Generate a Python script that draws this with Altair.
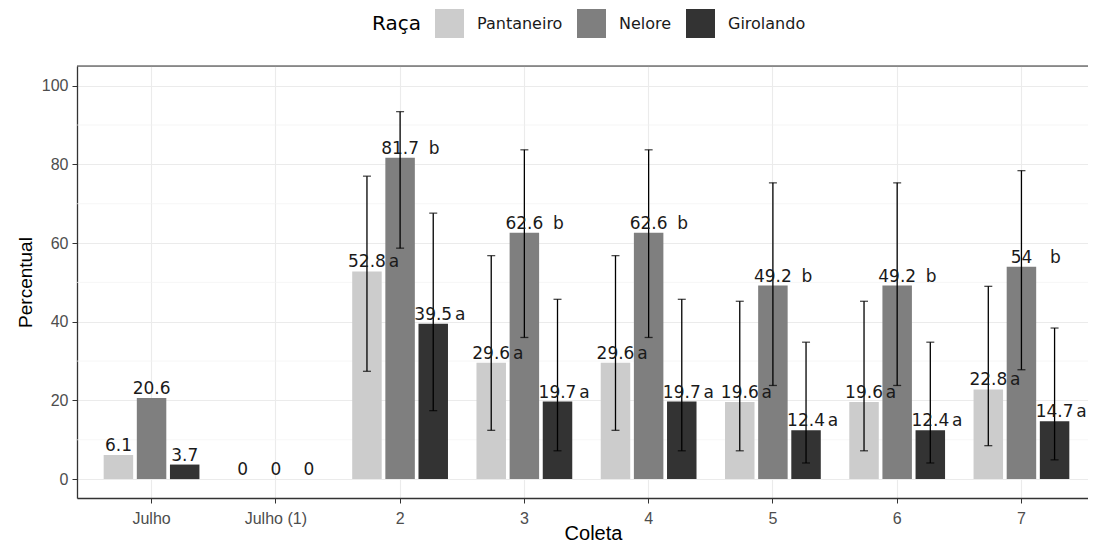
import altair as alt
import pandas as pd

# ---- data ----
coletas = ["Julho", "Julho (1)", "2", "3", "4", "5", "6", "7"]
racas = ["Pantaneiro", "Nelore", "Girolando"]
cores = ["#CCCCCC", "#7F7F7F", "#333333"]

pantaneiro = [6.1, 0, 52.8, 29.6, 29.6, 19.6, 19.6, 22.8]
nelore = [20.6, 0, 81.7, 62.6, 62.6, 49.2, 49.2, 54]
girolando = [3.7, 0, 39.5, 19.7, 19.7, 12.4, 12.4, 14.7]

pantaneiro_inf = [None, None, 27.4, 12.4, 12.4, 7.2, 7.2, 8.5]
pantaneiro_sup = [None, None, 77.0, 56.8, 56.8, 45.2, 45.2, 49.0]
nelore_inf = [None, None, 58.7, 36.0, 36.0, 23.8, 23.8, 27.8]
nelore_sup = [None, None, 93.4, 83.7, 83.7, 75.3, 75.3, 78.4]
girolando_inf = [None, None, 17.4, 7.2, 7.2, 4.1, 4.1, 4.9]
girolando_sup = [None, None, 67.6, 45.7, 45.7, 34.8, 34.8, 38.4]

pantaneiro_letra = ["", "", "a", "a", "a", "a", "a", "a"]
nelore_letra = ["", "", "b", "b", "b", "b", "b", "b"]
girolando_letra = ["", "", "a", "a", "a", "a", "a", "a"]

y_ticks = [0, 20, 40, 60, 80, 100]
y_minor = [10, 30, 50, 70, 90]

# ---- long table ----
series = {
    "Pantaneiro": (pantaneiro, pantaneiro_inf, pantaneiro_sup, pantaneiro_letra),
    "Nelore": (nelore, nelore_inf, nelore_sup, nelore_letra),
    "Girolando": (girolando, girolando_inf, girolando_sup, girolando_letra),
}
rows = []
for raca in racas:
    vals, inf, sup, let = series[raca]
    for i, c in enumerate(coletas):
        rows.append({
            "coleta": c, "raca": raca, "valor": vals[i],
            "inf": inf[i], "sup": sup[i], "letra": let[i],
            "rotulo": f"{vals[i]:g}",
        })
df = pd.DataFrame(rows)

FONT = "DejaVu Sans"
W, H = 1011, 432
XRANGE = 1019

xenc = alt.X("coleta:N", sort=coletas,
             scale=alt.Scale(range=[0, XRANGE], paddingInner=0.2, paddingOuter=0.2),
             axis=alt.Axis(title="Coleta", labelAngle=0, grid=True, gridColor="#EBEBEB",
                           gridWidth=1.1, labelFontSize=16, labelColor="#4D4D4D",
                           tickSize=5, tickColor="#333333", labelPadding=7,
                           domainColor="#333333", domainWidth=1.3,
                           titleFontSize=20, titleFontWeight="normal", titleColor="#000000",
                           titleBaseline="alphabetic", titleY=41, titleX=516))
xoff = alt.XOffset("raca:N", sort=racas,
                   scale=alt.Scale(paddingInner=0.11, paddingOuter=0.055))
yscale = alt.Scale(domain=[-4.8, 105], nice=False, zero=False)
yaxis = alt.Axis(values=y_ticks, grid=True, gridColor="#EBEBEB", gridWidth=1.1,
                 labelFontSize=16, labelColor="#4D4D4D", tickSize=5, tickColor="#333333",
                 labelPadding=4, domainColor="#333333", domainWidth=1.3,
                 titleFontSize=19, titleFontWeight="normal", titleColor="#000000",
                 titlePadding=6)

base = alt.Chart(df)

minor = alt.Chart(pd.DataFrame({"v": y_minor})).mark_rule(
    color="#F2F2F2", strokeWidth=0.7
).encode(y=alt.Y("v:Q", scale=yscale, axis=yaxis, title="Percentual"))

top_border = alt.Chart(pd.DataFrame({"a": [0]})).mark_rule(
    color="#333333", strokeWidth=1.1
).encode(y=alt.value(0))

bars = base.mark_bar().encode(
    x=xenc, xOffset=xoff,
    y=alt.Y("valor:Q", scale=yscale, axis=yaxis, title="Percentual"),
    color=alt.Color("raca:N", sort=racas,
                    scale=alt.Scale(domain=racas, range=cores),
                    legend=alt.Legend(title="Raça", orient="none", direction="horizontal",
                                      legendX=295, legendY=-57, titleOrient="left",
                                      titleFontSize=20, titleFont=FONT,
                                      titleFontWeight="normal", titleColor="#000000",
                                      titlePadding=14, titleBaseline="middle",
                                      labelFontSize=16, labelFont=FONT, labelColor="#1a1a1a",
                                      symbolType="square", symbolSize=841,
                                      symbolStrokeWidth=0, symbolOpacity=1,
                                      labelOffset=13, columnPadding=14)),
)

err = base.transform_filter("isValid(datum.inf)")
err_rule = err.mark_rule(color="#000000", strokeWidth=1.3).encode(
    x=xenc, xOffset=xoff,
    y=alt.Y("inf:Q", scale=yscale, title="Percentual"), y2="sup:Q")
err_lo = err.mark_tick(color="#000000", size=8, thickness=1.3).encode(
    x=xenc, xOffset=xoff, y=alt.Y("inf:Q", scale=yscale, title="Percentual"))
err_hi = err.mark_tick(color="#000000", size=8, thickness=1.3).encode(
    x=xenc, xOffset=xoff, y=alt.Y("sup:Q", scale=yscale, title="Percentual"))

num = base.mark_text(font=FONT, fontSize=17, color="#1a1a1a", dy=-4,
                     baseline="alphabetic").encode(
    x=xenc, xOffset=xoff,
    y=alt.Y("valor:Q", scale=yscale, title="Percentual"), text="rotulo:N")

let_a = base.transform_filter("datum.letra == 'a'").mark_text(
    font=FONT, fontSize=17, color="#1a1a1a", dy=-4, dx=27, baseline="alphabetic").encode(
    x=xenc, xOffset=xoff,
    y=alt.Y("valor:Q", scale=yscale, title="Percentual"), text="letra:N")
let_b = base.transform_filter("datum.letra == 'b'").mark_text(
    font=FONT, fontSize=17, color="#1a1a1a", dy=-4, dx=34, baseline="alphabetic").encode(
    x=xenc, xOffset=xoff,
    y=alt.Y("valor:Q", scale=yscale, title="Percentual"), text="letra:N")

chart = alt.layer(minor, bars, err_rule, err_lo, err_hi, num, let_a, let_b, top_border).properties(
    width=W, height=H,
    autosize=alt.AutoSizeParams(type="none"),
    padding={"left": 69, "top": 58, "right": 0, "bottom": 49},
).configure_view(stroke=None).configure_axis(
    labelFont=FONT, titleFont=FONT
).configure(background="#FFFFFF")

chart.save("out.html", embed_options={"renderer": "svg", "actions": False})
